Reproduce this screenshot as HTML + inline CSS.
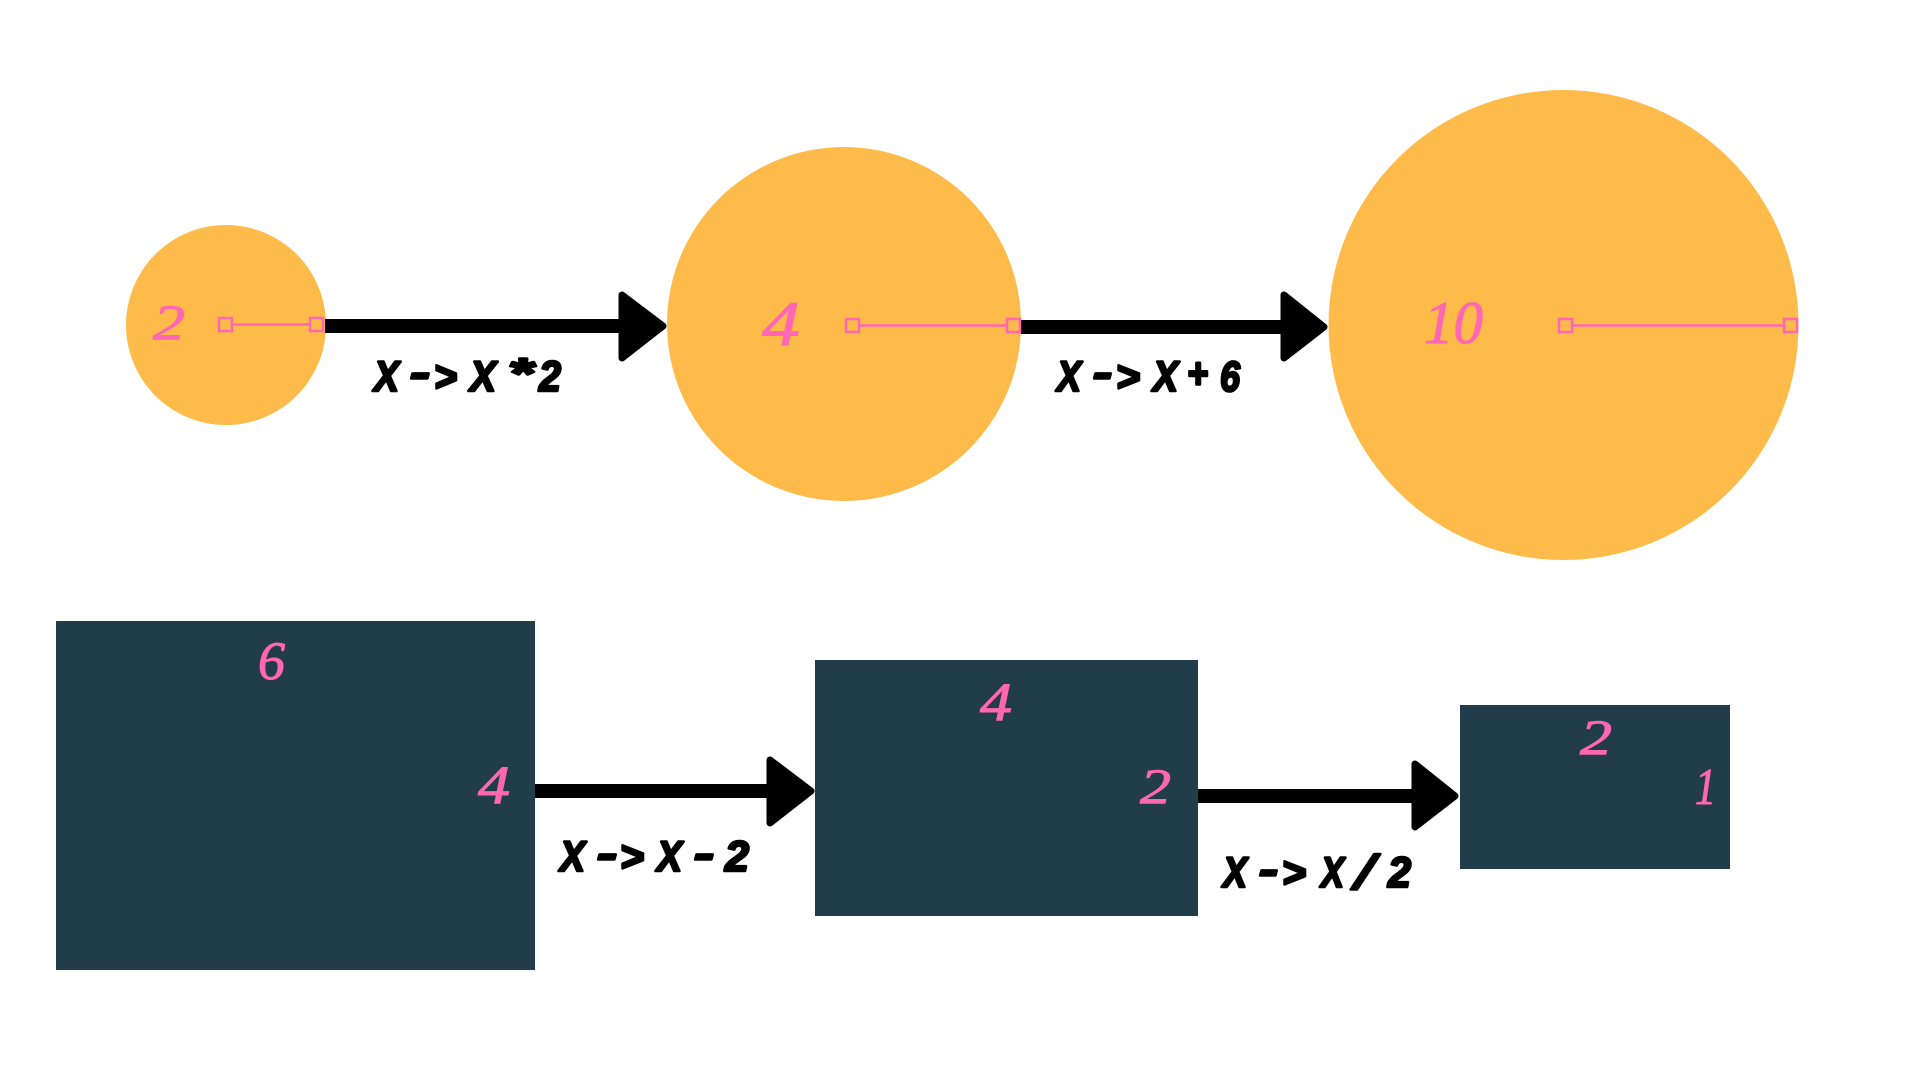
<!DOCTYPE html>
<html><head><meta charset="utf-8"><style>
html,body{margin:0;padding:0;background:#fff;width:1920px;height:1080px;overflow:hidden}
svg{display:block}
.l{font:italic bold 43px "Liberation Sans",sans-serif;fill:#000;stroke:#000;stroke-width:2.6;stroke-linejoin:round}
.d{font:italic 48px "Liberation Serif",serif;fill:#ff66b3;stroke:#ff66b3;stroke-width:1}
</style></head><body>
<svg width="1920" height="1080" viewBox="0 0 1920 1080" xmlns="http://www.w3.org/2000/svg">
<rect width="1920" height="1080" fill="#fff"/>
<circle cx="226" cy="325" r="100" fill="#ffbb4a"/>
<circle cx="844" cy="324" r="177" fill="#ffbb4a"/>
<circle cx="1563.500" cy="325" r="235" fill="#ffbb4a"/>
<rect x="56" y="621" width="479" height="349" fill="#223d4a"/>
<rect x="815" y="660" width="383" height="256" fill="#223d4a"/>
<rect x="1460" y="705" width="270" height="164" fill="#223d4a"/>

<g fill="#000" stroke="none">
<rect x="325" y="319" width="296" height="14"/>
<rect x="1021" y="320" width="264" height="14"/>
<rect x="535" y="784" width="236" height="14"/>
<rect x="1198" y="789" width="218" height="14"/>
</g>
<g fill="#000" stroke="#000" stroke-width="7" stroke-linejoin="round">
<polygon points="622,295 663,326 622,358"/>
<polygon points="1284,295 1324,327 1284,358"/>
<polygon points="770,760 811,791 770,823"/>
<polygon points="1415,764 1455,796 1415,827"/>
</g>

<g stroke="#ff66b3" fill="none" stroke-width="2.500">
<line x1="233" y1="324.500" x2="309" y2="324.500"/>
<rect x="219" y="318" width="13" height="13"/>
<rect x="310" y="318" width="13" height="13"/>
<line x1="858" y1="325.500" x2="1007" y2="325.500"/>
<rect x="846" y="319" width="13" height="13"/>
<rect x="1007" y="319" width="13" height="13"/>
<line x1="1572" y1="325.500" x2="1784" y2="325.500"/>
<rect x="1559" y="319" width="13" height="13"/>
<rect x="1784" y="319" width="13" height="13"/>
</g>

<!-- label 1 -->
<text class="l" x="374" y="391" textLength="25" lengthAdjust="spacingAndGlyphs">X</text>
<text class="l" x="410" y="387" textLength="20" lengthAdjust="spacingAndGlyphs">-</text>
<text class="l" x="434" y="391" textLength="23" lengthAdjust="spacingAndGlyphs">&gt;</text>
<text class="l" x="470" y="391" textLength="26" lengthAdjust="spacingAndGlyphs">X</text>
<text class="l" x="508" y="388" textLength="25" lengthAdjust="spacingAndGlyphs">*</text>
<text class="l" x="539" y="391" textLength="22" lengthAdjust="spacingAndGlyphs">2</text>
<!-- label 2 -->
<text class="l" x="1057" y="391" textLength="24" lengthAdjust="spacingAndGlyphs">X</text>
<text class="l" x="1093" y="387" textLength="19" lengthAdjust="spacingAndGlyphs">-</text>
<text class="l" x="1116" y="391" textLength="24" lengthAdjust="spacingAndGlyphs">&gt;</text>
<text class="l" x="1153" y="391" textLength="25" lengthAdjust="spacingAndGlyphs">X</text>
<text class="l" x="1187" y="388" textLength="21" lengthAdjust="spacingAndGlyphs">+</text>
<text class="l" x="1220" y="391" textLength="20" lengthAdjust="spacingAndGlyphs">6</text>
<!-- label 3 -->
<text class="l" x="560" y="871" textLength="25" lengthAdjust="spacingAndGlyphs">X</text>
<text class="l" x="597" y="868" textLength="20" lengthAdjust="spacingAndGlyphs">-</text>
<text class="l" x="620" y="871" textLength="24" lengthAdjust="spacingAndGlyphs">&gt;</text>
<text class="l" x="657" y="871" textLength="25" lengthAdjust="spacingAndGlyphs">X</text>
<text class="l" x="694" y="868" textLength="20" lengthAdjust="spacingAndGlyphs">-</text>
<text class="l" x="725" y="871" textLength="24" lengthAdjust="spacingAndGlyphs">2</text>
<!-- label 4 -->
<text class="l" x="1223" y="887" textLength="24" lengthAdjust="spacingAndGlyphs">X</text>
<text class="l" x="1259" y="884" textLength="19" lengthAdjust="spacingAndGlyphs">-</text>
<text class="l" x="1282" y="887" textLength="24" lengthAdjust="spacingAndGlyphs">&gt;</text>
<text class="l" x="1321" y="887" textLength="23" lengthAdjust="spacingAndGlyphs">X</text>
<text class="l" x="1355" y="889" textLength="19" lengthAdjust="spacingAndGlyphs" style="font-weight:normal;font-size:48px">/</text>
<text class="l" x="1388" y="887" textLength="23" lengthAdjust="spacingAndGlyphs">2</text>

<!-- digits -->
<text class="d" x="153" y="339" style="font-size:50px" textLength="32" lengthAdjust="spacingAndGlyphs">2</text>
<text class="d" x="762" y="345" style="font-size:64px" textLength="38" lengthAdjust="spacingAndGlyphs">4</text>
<text class="d" x="1424" y="343" style="font-size:60px" textLength="59" lengthAdjust="spacingAndGlyphs">10</text>
<text class="d" x="258" y="679" style="font-size:54px" textLength="27" lengthAdjust="spacingAndGlyphs">6</text>
<text class="d" x="478" y="803" style="font-size:54px" textLength="32" lengthAdjust="spacingAndGlyphs">4</text>
<text class="d" x="980" y="720" style="font-size:54px" textLength="32" lengthAdjust="spacingAndGlyphs">4</text>
<text class="d" x="1140" y="803" style="font-size:50px" textLength="31" lengthAdjust="spacingAndGlyphs">2</text>
<text class="d" x="1580" y="754" style="font-size:50px" textLength="32" lengthAdjust="spacingAndGlyphs">2</text>
<text class="d" x="1695" y="804" style="font-size:52px" textLength="21" lengthAdjust="spacingAndGlyphs">1</text>
</svg>
</body></html>
